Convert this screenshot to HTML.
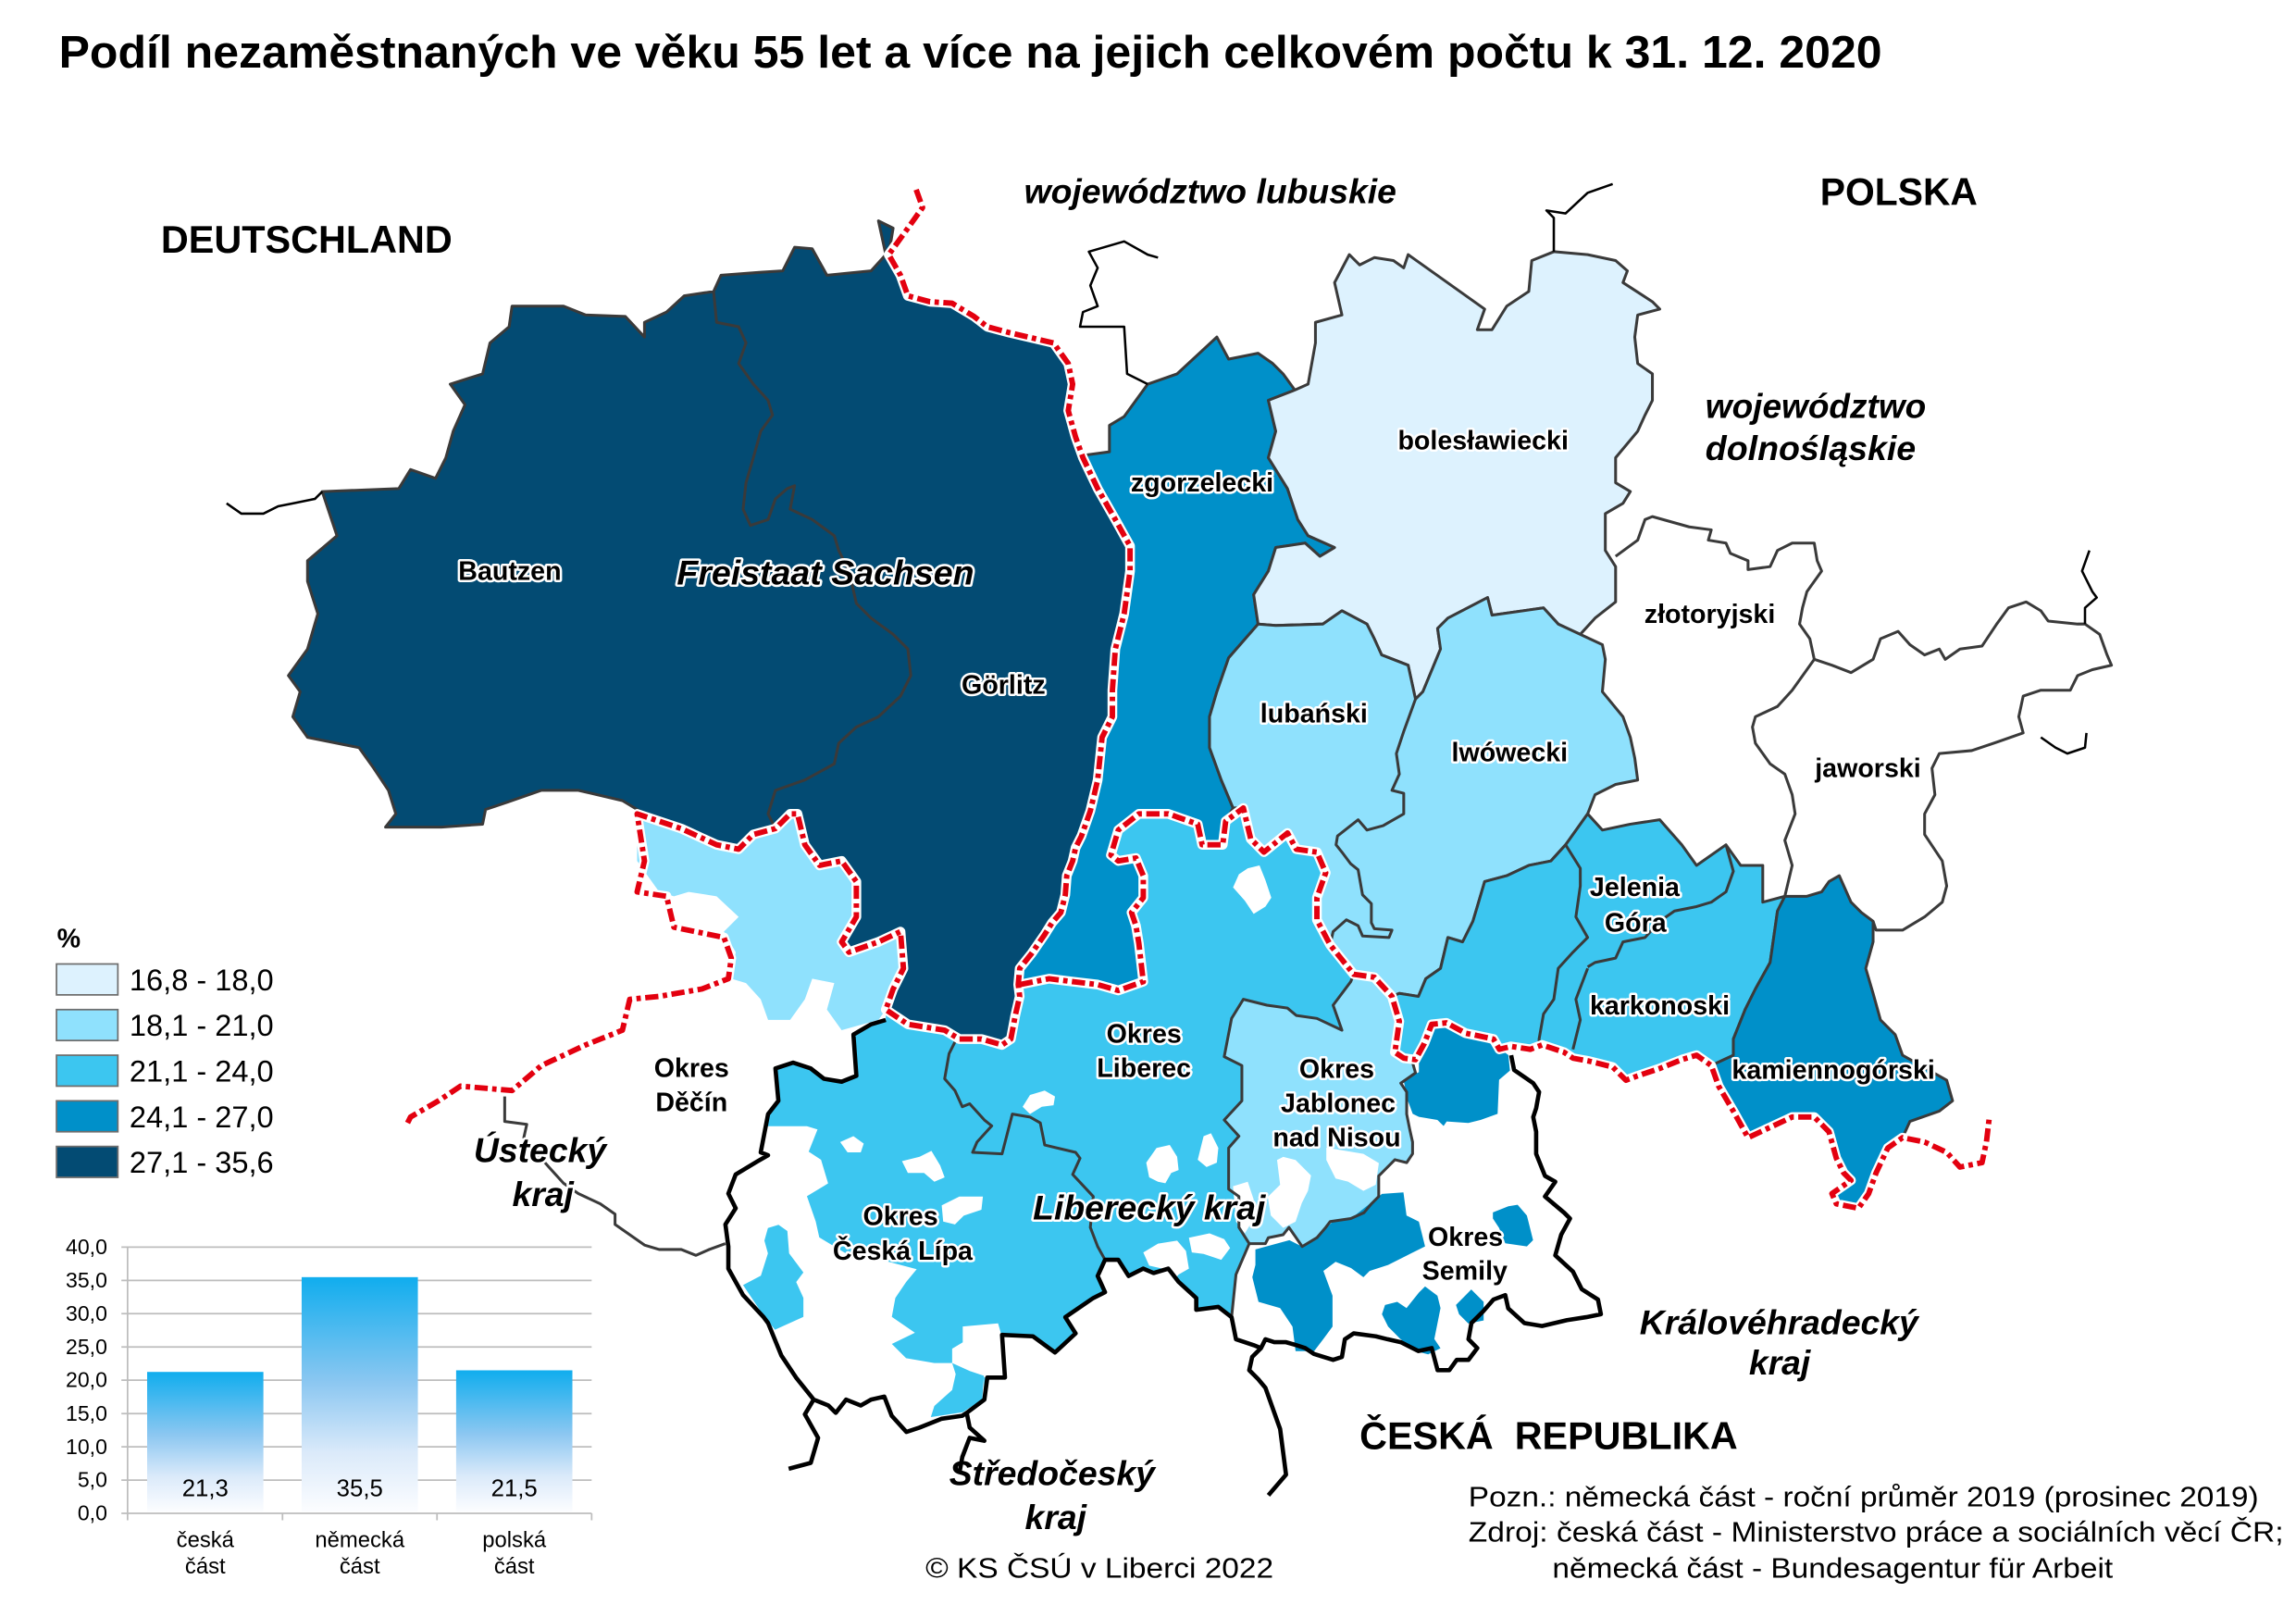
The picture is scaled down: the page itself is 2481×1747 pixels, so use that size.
<!DOCTYPE html>
<html><head><meta charset="utf-8">
<style>
html,body{margin:0;padding:0;background:#fff}
svg{display:block}
text{font-family:"Liberation Sans",Arial,sans-serif;fill:#000}
.h{stroke:#fff;stroke-width:3.2;stroke-linejoin:round;paint-order:stroke fill}
.lb{font-size:18px;font-weight:bold;text-anchor:middle}
.bi{font-size:23.5px;font-weight:bold;font-style:italic}
.pl{stroke:#3a3a3a;stroke-width:1.9;stroke-linejoin:round}
.gl{fill:none;stroke:#3a3a3a;stroke-width:1.9;stroke-linejoin:round}
.bk{fill:none;stroke:#000;stroke-width:2.9;stroke-linejoin:round}
.bt{fill:none;stroke:#000;stroke-width:1.6;stroke-linejoin:round}
</style></head><body>
<svg width="2481" height="1747" viewBox="0 0 1560.4 1098.7" xmlns="http://www.w3.org/2000/svg">
<defs>
<linearGradient id="bar" x1="0" y1="0" x2="0" y2="1">
<stop offset="0" stop-color="#10adee"/>
<stop offset="0.45" stop-color="#8cc7f1"/>
<stop offset="0.75" stop-color="#dbeafa"/>
<stop offset="1" stop-color="#fcfdff"/>
</linearGradient>
</defs>
<rect x="0" y="0" width="1560.4" height="1098.7" fill="#fff"/>

<!-- ===== Czech fills ===== -->
<!-- Šluknov light -->
<polygon fill="#8fe1fd" points="433,553 463,563 487,574 502,577 512,567 527,563 537,553 542,553 547,574 557,588 572,585 582,599 582,623 572,640 577,647 597,640 612,633 614,658 607,672 602,686 597,693 572,700 562,686 567,668 552,665 547,679 537,693 522,693 517,679 507,668 497,665 500,647 492,633 502,623 487,609 468,606 458,609 448,606 438,592 433,585"/>
<!-- Liberec + Česká Lípa mid -->
<polygon fill="#3cc6f0" points="602,686 617,696 642,700 652,706 667,706 681,710 687,706 690,690 693,677 693,669 713,665 729,667 746,669 760,673 777,667 774,641 772,629 769,620 777,610 777,595 772,583 760,585 755,581 760,564 774,553 794,553 814,560 817,574 831,574 833,558 845,549 850,570 859,579 875,566 881,577 895,579 901,593 895,610 895,625 904,642 920,662 918,667 906,683 912,700 895,692 881,690 875,685 861,683 845,679 837,692 832,718 844,724 844,748 832,761 842,772 835,780 835,808 842,813 842,834 849,845 840,866 837,895 828,888 813,890 813,882 801,871 794,862 784,865 777,862 767,867 760,856 751,856 746,867 751,878 743,882 724,895 731,906 717,919 702,908 681,907 683,936 671,936 669,951 657,960 654,962 640,964 625,970 616,973 606,962 601,949 592,951 585,955 575,951 568,960 563,955 553,951 541,936 531,921 522,899 519,895 505,880 495,862 495,847 493,832 500,821 495,811 500,798 515,789 522,785 517,783 522,757 529,748 527,726 539,722 551,726 560,733 572,735 582,731 580,703 592,696 602,693"/>
<!-- Jablonec light -->
<polygon fill="#8fe1fd" points="845,679 861,683 875,685 881,690 895,692 912,700 906,683 918,667 920,662 934,664 946,677 951,694 948,715 954,719 960,722 962,729 952,736 956,742 956,757 958,767 960,776 960,784 956,790 948,788 939,797 937,799 937,813 932,818 927,824 918,828 904,830 901,834 895,841 885,847 876,834 872,839 862,841 860,845 849,845 842,834 842,813 835,808 835,780 842,772 832,761 844,748 844,724 832,718 837,692"/>
<!-- white areas in Česká Lípa -->
<polygon fill="#fff" points="490.6,765.2 548.4,765.2 555.6,767.4 549.6,782.5 558,788 562.8,804.1 548.4,812.8 554.4,830 556.8,840.8 574.8,851.6 598.9,856 623,862.4 615.8,871.1 608.5,881.9 606.1,894.8 621.8,905.6 606.1,913.2 615.8,922.9 635,926.2 647.1,926.2 647.1,916.4 654.3,912.1 654.3,901.3 678.3,899.2 680.8,907.8 683.2,935.9 668.7,935.9 668.7,994.2 490.6,994.2"/>
<polygon fill="#3cc6f0" points="521.9,834.4 529.1,832.2 535.1,836.5 536.3,851.6 546,864.6 541.1,871.1 546,881.9 546,894.8 526.7,903.5 519.5,894.8 505,873.2 517.1,866.8 521.9,851.6 519.5,843"/>
<polygon fill="#3cc6f0" points="647.1,926.2 659.1,931.6 668.7,934.8 667.5,951 654.3,959.6 632.6,962.9 635,955.3 647.1,944.5 649.5,933.7"/>
<g fill="#fff">
<polygon points="571,776 580,772 587,777 585,783 576,783"/>
<polygon points="613,789 625,786 633,782 639,792 642,800 635,803 628,797 617,797"/>
<polygon points="640,819 652,813 668,813 667,822 655,826 649,832 641,830"/>
<polygon points="848,590 856,588 860,598 864,610 860,616 852,621 846,612 838,603 842,594"/>
<polygon points="695,752 700,744 710,741 717,745 716,751 708,752 700,757"/>
<polygon points="786,780 795,778 800,786 801,795 796,797 792,804 787,803 781,800 779,790"/>
<polygon points="818,772 823,770 828,780 827,790 820,793 814,788 816,780"/>
<polygon points="777,851 787,845 800,843 806,850 808,862 801,866 796,872 790,862 781,860"/>
<polygon points="808,841 822,838 832,842 836,848 830,856 818,852 810,851"/>
<polygon points="838,806 848,803 852,815 851,830 846,838 840,830"/>
<polygon points="867.9,788.2 872.1,786.1 880.5,788.2 891,798.7 888.9,809.2 884.7,817.5 880.5,830.1 872.1,834.3 863.7,825.9 861.6,813.3 870,805"/>
<polygon points="901.4,779.8 926.6,784 937.1,790.3 935,805 926.6,809.2 916.1,802.9 907.7,800.8 901.4,788.2"/>
</g>
<!-- Semily patches -->
<g fill="#0090c9">
<polygon points="953.8,733.7 964.3,728.5 964.3,715.9 972.7,698.1 981.1,697 991.6,702.3 1006.2,706.4 1016.7,710.6 1025.1,716.9 1026.2,727.4 1018.8,733.7 1017.8,756.8 1006.2,761 997.9,763 983.2,762 981.1,765.1 976.9,761 964.3,758.9 960.1,756.8 957,748.4"/>
<polygon points="853.2,849 876.3,842.7 884.7,846.9 897.3,838.5 905.6,830.1 918.2,828 928.7,819.6 939.2,811.2 953.8,810.2 955.9,825.9 964.3,830.1 968.5,846.9 955.9,853.2 943.4,859.5 930.8,863.6 926.6,867.8 918.2,861.6 907.7,857.4 899.4,863.6 905.6,880.4 905.6,901.4 899.4,909.8 893.1,918.1 880.5,918.1 878.4,901.4 870,888.8 855.3,884.6 851.1,867.8 853.2,859.5"/>
<polygon points="1014.6,823.8 1025.1,819.6 1031.4,818.6 1037.7,825.9 1041.9,842.7 1037.7,846.9 1023,844.8 1018.8,834.3 1014.6,828"/>
<polygon points="941.3,886.7 949.6,884.6 955.9,888.8 964.3,878.3 968.5,874.1 976.9,880.4 979,888.8 974.8,909.8 979,916.1 970.6,920.3 962.2,918.1 951.7,909.8 943.4,901.4 939.2,893"/>
<polygon points="989.5,886.7 999.9,876.2 1008.3,884.6 1008.3,897.2 997.9,899.3 991.6,893"/>
</g>

<!-- ===== German / Polish districts ===== -->
<polygon class="pl" fill="#034b73" points="597,150 607,155 604,173 612,187 617,201 632,205 647,206 662,215 671,222 686,226 716,233 726,247 729,261 726,279 731,297 736,311 746,332 758,353 768,371 768,388 764,417 758,441 756,469 756,487 749,501 746,530 741,551 735,568 731,576 729,585 725,595 724,608 721,620 715,627 710,635 701,648 693,658 692,669 693,677 690,690 687,706 681,710 667,706 652,706 642,700 617,696 602,686 607,672 614,658 612,633 597,640 577,647 572,640 582,623 582,599 572,585 557,588 547,574 542,553 537,553 527,563 512,567 502,577 487,574 463,563 438,553 423,544 393,537 368,537 345,545 330,550 328,560 300,562 262,562 269,553 264,537 254,522 244,508 209,501 199,487 204,470 196,459 209,441 216,417 209,395 209,381 229,364 219,334 271,332 279,319 296,325 303,311 308,293 316,275 306,261 328,254 333,233 346,222 348,208 383,208 398,214 425,215 438,229 438,219 453,212 465,201 485,198 490,187 517,185 532,184 540,168 552,169 562,187 592,184 602,173"/>
<polygon class="pl" fill="#0090c9" points="739,309 754,307 754,289 764,283 780,261 800,254 827,229 835,244 855,240 865,247 872,254 880,265 862,272 867,293 862,311 875,332 882,353 889,364 907,372 897,378 887,369 867,372 862,388 852,404 855,424 835,447 827,470 822,487 822,508 830,530 838,549 833,558 831,574 817,574 814,560 794,553 774,553 760,564 755,581 760,585 772,583 777,595 777,610 769,620 772,629 774,641 777,667 760,673 746,669 729,667 713,665 693,669 693,658 701,648 710,635 715,627 721,620 724,608 725,595 729,585 731,576 735,568 741,551 746,530 749,501 756,487 756,469 758,441 764,417 768,388 768,371 758,353 746,332 736,311"/>
<polygon class="pl" fill="#ddf2fe" points="894,233 894,219 912,214 907,192 917,173 924,180 934,175 947,177 954,182 957,173 1009,210 1004,224 1014,224 1024,208 1039,198 1041,177 1056,171 1079,173 1098,177 1106,184 1103,192 1123,205 1128,210 1113,214 1111,229 1113,247 1123,254 1123,272 1118,282 1113,293 1098,311 1098,328 1108,334 1103,342 1091,349 1091,374 1098,385 1098,409 1084,420 1074,431 1059,424 1049,413 1014,418 1011,406 984,420 977,427 979,441 967,470 962,475 957,452 939,445 934,434 929,424 912,415 899,424 867,425 855,424 852,404 862,388 867,372 887,369 897,378 907,372 889,364 882,353 875,332 862,311 867,293 862,272 880,265 889,261"/>
<polygon class="pl" fill="#8fe1fd" points="838,549 830,530 822,508 822,487 827,470 835,447 855,424 867,425 899,424 912,415 929,424 934,434 939,445 957,452 962,475 967,470 979,441 977,427 984,420 1011,406 1014,418 1049,413 1059,424 1074,431 1089,438 1091,448 1089,470 1103,487 1108,501 1111,515 1113,530 1098,533 1084,540 1079,553 1064,574 1054,585 1039,588 1024,595 1009,599 1004,616 1001,626 994,640 984,637 979,658 969,665 964,677 951,675 946,677 934,664 920,662 904,642 895,625 895,610 901,593 895,579 881,577 875,566 859,579 850,570 845,549"/>
<polygon class="pl" fill="#3cc6f0" points="1079,553 1089,564 1108,560 1128,557 1143,574 1153,588 1173,574 1183,588 1198,588 1198,613 1213,609 1208,619 1203,654 1193,672 1186,686 1178,706 1178,717 1163,724 1153,717 1143,720 1128,726 1113,731 1105,734 1096,725 1080,721 1069,719 1063,715 1048,710 1040,713 1027,711 1019,713 1015,706 996,702 983,695 973,696 968,709 962,720 954,719 948,715 951,694 946,677 951,675 964,677 969,665 979,658 984,637 994,640 1001,626 1004,616 1009,599 1024,595 1039,588 1054,585 1064,574"/>
<polygon class="pl" fill="#0090c9" points="1213,609 1228,609 1238,606 1243,599 1250,595 1258,613 1265,620 1273,626 1273,640 1268,658 1273,675 1278,693 1288,703 1293,717 1323,734 1327,748 1318,755 1298,762 1293,773 1283,780 1275,797 1270,811 1263,821 1248,818 1245,811 1258,802 1253,797 1248,787 1243,769 1233,759 1218,759 1203,766 1188,773 1178,755 1168,738 1163,724 1178,717 1178,706 1186,686 1193,672 1203,654 1208,619"/>

<!-- ===== gray boundary lines ===== -->
<polyline class="gl" points="485,198 487,219 502,222 507,233 502,247 512,261 522,272 525,282 517,293 512,311 507,328 505,346 510,357 522,353 527,339 535,332 540,330 537,346 552,353 567,364 570,374 577,388 582,410 592,420 607,431 617,441 619,459 612,473 597,487 582,494 570,505 567,519 547,530 527,537 522,553 527,563"/>
<polyline class="gl" points="962,475 954,497 949,512 951,526 946,537 954,539 954,553 940,561 929,564 923,557 909,568 908,574 912,579 918,587 923,591 926,608 932,614 932,627 934,631 946,632 944,637 926,636 923,629 915,625 906,633 904,642"/>
<polyline class="gl" points="1064,574 1074,590 1074,602 1071,623 1079,637 1069,647 1059,658 1056,679 1049,689 1046,706 1046,712"/>
<polyline class="gl" points="1079,657 1084,654 1098,651 1103,640 1118,637 1128,626 1138,619 1153,616 1163,613 1173,606 1178,592 1173,574"/>
<polyline class="gl" points="1079,658 1071,679 1074,693 1069,713"/>
<polyline class="gl" points="1098,378 1113,367 1118,353 1123,351 1148,358 1163,360 1161,367 1173,369 1176,376 1188,381 1188,387 1203,385 1208,374 1218,369 1233,369 1235,381 1238,388 1228,402 1225,413 1223,424 1230,434 1233,448 1228,455 1218,469 1208,480 1193,487 1191,494 1193,505 1203,519 1213,526 1218,540 1220,553 1213,571 1218,588 1213,609"/>
<polyline class="gl" points="1233,448 1245,452 1258,457 1273,448 1278,434 1290,429 1298,438 1308,445 1318,441 1322,448 1332,441 1347,439 1357,424 1365,413 1377,409 1387,415 1392,422 1412,424 1417,424 1427,431 1432,445 1435,452 1422,455 1412,459 1407,469 1387,469 1375,473 1372,487 1375,498 1355,505 1340,510 1318,512 1313,522 1315,540 1308,553 1308,567 1320,585 1323,602 1320,613 1308,623 1293,632 1275,632 1273,626"/>
<!-- CZ okres lines -->
<polyline class="gl" points="650,706 645,716 642,733 649,741 654,752 659,750 669,761 674,765 664,776 661,783 681,784 688,757 700,759 707,763 710,778 731,783 734,787 729,798 743,813 741,834 746,847 751,856"/>
<polyline class="gl" points="920,662 918,667 906,683 912,700 895,692 881,690 875,685 861,683 845,679 837,692 832,718 844,724 844,748 832,761 842,772 835,780 835,808 842,813 842,834 849,845 840,866 837,895"/>
<polyline class="gl" points="849,845 860,845 862,841 872,839 876,834 885,847 895,841 901,834 904,830 918,828 927,824 932,818 937,813 937,799 939,797 948,788 956,790 960,784 960,776 958,767 956,757 956,742 952,736 962,729 960,722"/>
<polyline class="gl" points="343,745 343,762 358,764 356,773 366,785 373,793 383,804 393,811 408,818 418,825 418,832 428,839 438,846 448,849 463,849 473,853 482,849 493,845"/>

<!-- ===== black lines ===== -->
<polyline class="bk" points="602,693 592,696 580,703 582,731 572,735 560,733 551,726 539,722 527,726 529,748 522,757 517,783 522,785 515,789 500,798 495,811 500,821 493,832 495,847 495,862 505,880 519,895 522,899 531,921 541,936 553,951 563,955 568,960 575,951 585,955 592,951 601,949 606,962 616,973 625,970 640,964 654,962 657,960 669,951 671,936 683,936 681,907 702,908 717,919 731,906 724,895 743,882 751,878 746,867 751,856 760,856 767,867 777,862 784,865 794,862 801,871 813,882 813,890 828,888 837,895 840,910 852,914 857,916 860,910 866,912 874,912 881,914 887,916 893,920 906,924 912,922 914,910 920,906 935,908 943,910 952,912 964,918 973,916 977,931 985,931 990,924 998,924 1004,916 998,910 1000,899 1008,891 1015,883 1023,880 1025,889 1036,899 1048,901 1065,897 1078,895 1088,893 1086,883 1075,876 1069,864 1057,853 1061,839 1067,828 1063,824 1050,813 1057,803 1050,799 1044,784 1044,769 1042,759 1044,753 1046,742 1042,736 1029,727 1027,717"/>
<polyline class="bk" points="553,951 547,961 556,977 551,994 536,998"/>
<polyline class="bk" points="657,960 659,970 669,979 659,977 654,990 652,1001"/>
<polyline class="bk" points="857,916 851,922 849,931 855,937 860,943 870,971 874,1002 862,1016"/>
<polyline class="bt" points="154,342 164,349 179,349 189,344 199,342 214,339 219,334"/>
<polyline class="bt" points="787,175 780,173 764,164 740,171 746,182 741,194 746,208 736,212 734,222 764,222 766,254 780,261"/>
<polyline class="bt" points="1056,171 1056,148 1051,143 1064,145 1079,131 1096,125"/>
<polyline class="bt" points="1420,374 1415,388 1422,402 1425,406 1417,413 1417,424"/>
<polyline class="bt" points="1387,501 1397,508 1405,512 1417,508 1418,498"/>

<!-- ===== red state borders ===== -->
<g fill="none" stroke-linejoin="round">
<polyline stroke="#fff" stroke-width="6.6" points="277,763 279,759 298,748 313,738 348,741 368,724 398,710 423,700 428,679 448,677 477,672 495,665 497,651 492,637 458,630 453,609 433,606 438,585 433,553 463,563 487,574 502,577 512,567 527,563 537,553 542,553 547,574 557,588 572,585 582,599 582,623 572,640 577,647 597,640 612,633 614,658 607,672 602,686 617,696 642,700 652,706 667,706 681,710 687,706 690,690 693,677 692,669 693,658 701,648 710,635 715,627 721,620 724,608 725,595 729,585 731,576 735,568 741,551 746,530 749,501 756,487 756,469 758,441 764,417 768,388 768,371 758,353 746,332 736,311 731,297 726,279 729,261 726,247 716,233 686,226 671,222 662,215 647,206 632,205 617,201 612,187 604,173 617,155 627,141 622,127"/>
<polyline stroke="#fff" stroke-width="6.6" points="693,669 713,665 729,667 746,669 760,673 777,667 774,641 772,629 769,620 777,610 777,595 772,583 760,585 755,581 760,564 774,553 794,553 814,560 817,574 831,574 833,558 845,549 850,570 859,579 875,566 881,577 895,579 901,593 895,610 895,625 904,642 920,662 934,664 946,677 951,694 948,715 954,719 962,720 968,709 973,696 983,695 996,702 1015,706 1019,713 1027,711 1040,713 1048,710 1063,715 1069,719 1080,721 1096,725 1105,734 1113,731 1128,726 1143,720 1153,717 1163,724 1168,738 1178,755 1188,773 1203,766 1218,759 1233,759 1243,769 1248,787 1253,797 1258,802 1245,811 1248,818 1263,821 1270,811 1275,797 1283,780 1293,773 1308,776 1323,783 1332,793 1347,790 1350,776 1352,759"/>
<polyline stroke="#e3000f" stroke-width="3.7" stroke-dasharray="9 3 3 3" points="277,763 279,759 298,748 313,738 348,741 368,724 398,710 423,700 428,679 448,677 477,672 495,665 497,651 492,637 458,630 453,609 433,606 438,585 433,553 463,563 487,574 502,577 512,567 527,563 537,553 542,553 547,574 557,588 572,585 582,599 582,623 572,640 577,647 597,640 612,633 614,658 607,672 602,686 617,696 642,700 652,706 667,706 681,710 687,706 690,690 693,677 692,669 693,658 701,648 710,635 715,627 721,620 724,608 725,595 729,585 731,576 735,568 741,551 746,530 749,501 756,487 756,469 758,441 764,417 768,388 768,371 758,353 746,332 736,311 731,297 726,279 729,261 726,247 716,233 686,226 671,222 662,215 647,206 632,205 617,201 612,187 604,173 617,155 627,141 622,127"/>
<polyline stroke="#e3000f" stroke-width="3.7" stroke-dasharray="9 3 3 3" points="693,669 713,665 729,667 746,669 760,673 777,667 774,641 772,629 769,620 777,610 777,595 772,583 760,585 755,581 760,564 774,553 794,553 814,560 817,574 831,574 833,558 845,549 850,570 859,579 875,566 881,577 895,579 901,593 895,610 895,625 904,642 920,662 934,664 946,677 951,694 948,715 954,719 962,720 968,709 973,696 983,695 996,702 1015,706 1019,713 1027,711 1040,713 1048,710 1063,715 1069,719 1080,721 1096,725 1105,734 1113,731 1128,726 1143,720 1153,717 1163,724 1168,738 1178,755 1188,773 1203,766 1218,759 1233,759 1243,769 1248,787 1253,797 1258,802 1245,811 1248,818 1263,821 1270,811 1275,797 1283,780 1293,773 1308,776 1323,783 1332,793 1347,790 1350,776 1352,759"/>
</g>

<!-- ===== Title ===== -->
<text x="40" y="45.9" font-size="31" font-weight="bold" textLength="1239" lengthAdjust="spacingAndGlyphs">Podíl nezaměstnaných ve věku 55 let a více na jejich celkovém počtu k 31. 12. 2020</text>

<!-- ===== Country / region labels ===== -->
<text x="109.4" y="171.6" font-size="26" font-weight="bold" textLength="198" lengthAdjust="spacingAndGlyphs">DEUTSCHLAND</text>
<text x="1237" y="139.4" font-size="26" font-weight="bold" textLength="107" lengthAdjust="spacingAndGlyphs">POLSKA</text>
<text x="924" y="984.5" font-size="26" font-weight="bold" textLength="257" lengthAdjust="spacingAndGlyphs" xml:space="preserve">ČESKÁ  REPUBLIKA</text>
<text class="bi" x="696" y="138" textLength="253" lengthAdjust="spacingAndGlyphs">województwo lubuskie</text>
<text class="bi" x="1159" y="284" textLength="150" lengthAdjust="spacingAndGlyphs">województwo</text>
<text class="bi" x="1159" y="312.5" textLength="143" lengthAdjust="spacingAndGlyphs">dolnośląskie</text>
<text class="bi h" x="460" y="397" font-size="24" textLength="202" lengthAdjust="spacingAndGlyphs">Freistaat Sachsen</text>
<text class="bi h" x="702" y="828.5" textLength="158" lengthAdjust="spacingAndGlyphs">Liberecký kraj</text>
<text class="bi h" x="367" y="789.5" text-anchor="middle">Ústecký</text>
<text class="bi h" x="369" y="819.5" text-anchor="middle">kraj</text>
<text class="bi" x="715" y="1009" text-anchor="middle">Středočeský</text>
<text class="bi" x="717.5" y="1039" text-anchor="middle">kraj</text>
<text class="bi" x="1209" y="906.5" text-anchor="middle">Královéhradecký</text>
<text class="bi" x="1209.5" y="934" text-anchor="middle">kraj</text>

<!-- district labels -->
<g class="lb">
<text class="h" x="346.5" y="394">Bautzen</text>
<text class="h" x="682" y="471.4">Görlitz</text>
<text class="h" x="817" y="333.9">zgorzelecki</text>
<text class="h" x="1008" y="305.4">bolesławiecki</text>
<text class="h" x="1162" y="423.4">złotoryjski</text>
<text class="h" x="893" y="491">lubański</text>
<text class="h" x="1026" y="517.4">lwówecki</text>
<text class="h" x="1269.5" y="528">jaworski</text>
<text class="h" x="1111" y="608.9">Jelenia</text>
<text class="h" x="1111.5" y="632.9">Góra</text>
<text class="h" x="1128" y="689.4">karkonoski</text>
<text class="h" x="1246" y="733.1">kamiennogórski</text>
<text class="h" x="777.5" y="708.6">Okres</text>
<text class="h" x="777.5" y="731.6">Liberec</text>
<text class="h" x="908.5" y="732.4">Okres</text>
<text class="h" x="909.5" y="755.6">Jablonec</text>
<text class="h" x="908.5" y="779">nad Nisou</text>
<text class="h" x="996" y="846.4">Okres</text>
<text class="h" x="995.5" y="869.4">Semily</text>
<text class="h" x="612" y="832.4">Okres</text>
<text class="h" x="613.5" y="856">Česká Lípa</text>
<text class="h" x="470" y="731.6">Okres</text>
<text class="h" x="470" y="755">Děčín</text>
</g>

<!-- ===== Legend ===== -->
<text x="38.8" y="643.6" font-size="18" font-weight="bold">%</text>
<g stroke="#6e6e6e" stroke-width="1.1">
<rect x="38.4" y="655" width="41.7" height="21" fill="#ddf2fe"/>
<rect x="38.4" y="686" width="41.7" height="21" fill="#8fe1fd"/>
<rect x="38.4" y="717" width="41.7" height="21" fill="#3cc6f0"/>
<rect x="38.4" y="748" width="41.7" height="21" fill="#0090c9"/>
<rect x="38.4" y="779" width="41.7" height="21" fill="#034b73"/>
</g>
<g font-size="20.5">
<text x="88" y="672.9">16,8 - 18,0</text>
<text x="88" y="703.9">18,1 - 21,0</text>
<text x="88" y="734.9">21,1 - 24,0</text>
<text x="88" y="765.9">24,1 - 27,0</text>
<text x="88" y="796.9">27,1 - 35,6</text>
</g>

<!-- ===== Bar chart ===== -->
<g stroke="#bdbdbd" stroke-width="1.1">
<line x1="82.5" y1="847.4" x2="402.1" y2="847.4"/>
<line x1="82.5" y1="870" x2="402.1" y2="870"/>
<line x1="82.5" y1="892.6" x2="402.1" y2="892.6"/>
<line x1="82.5" y1="915.2" x2="402.1" y2="915.2"/>
<line x1="82.5" y1="937.8" x2="402.1" y2="937.8"/>
<line x1="82.5" y1="960.5" x2="402.1" y2="960.5"/>
<line x1="82.5" y1="983.1" x2="402.1" y2="983.1"/>
<line x1="82.5" y1="1005.7" x2="402.1" y2="1005.7"/>
<line x1="82.5" y1="1028.3" x2="402.1" y2="1028.3"/>
<line x1="86.7" y1="847.4" x2="86.7" y2="1033"/>
<line x1="192" y1="1028.3" x2="192" y2="1033"/>
<line x1="297" y1="1028.3" x2="297" y2="1033"/>
<line x1="402.1" y1="1028.3" x2="402.1" y2="1033"/>
</g>
<rect x="100" y="932.2" width="79" height="95" fill="url(#bar)"/>
<rect x="205" y="867.8" width="79" height="159.4" fill="url(#bar)"/>
<rect x="310" y="931.1" width="79" height="96.1" fill="url(#bar)"/>
<g font-size="16.2" text-anchor="middle">
<text x="139.5" y="1016.8">21,3</text>
<text x="244.5" y="1016.8">35,5</text>
<text x="349.5" y="1016.8">21,5</text>
</g>
<g font-size="14.5" text-anchor="end">
<text x="72.9" y="852.2">40,0</text>
<text x="72.9" y="874.8">35,0</text>
<text x="72.9" y="897.4">30,0</text>
<text x="72.9" y="920">25,0</text>
<text x="72.9" y="942.6">20,0</text>
<text x="72.9" y="965.3">15,0</text>
<text x="72.9" y="987.9">10,0</text>
<text x="72.9" y="1010.5">5,0</text>
<text x="72.9" y="1033.1">0,0</text>
</g>
<g font-size="15" text-anchor="middle">
<text x="139.5" y="1051.3">česká</text>
<text x="139.5" y="1069.2">část</text>
<text x="244.5" y="1051.3">německá</text>
<text x="244.5" y="1069.2">část</text>
<text x="349.5" y="1051.3">polská</text>
<text x="349.5" y="1069.2">část</text>
</g>

<!-- ===== Footer texts ===== -->
<g font-size="19.5">
<text x="629" y="1072" textLength="236.5" lengthAdjust="spacingAndGlyphs">© KS ČSÚ v Liberci 2022</text>
<text x="998" y="1023.5" textLength="537" lengthAdjust="spacingAndGlyphs">Pozn.: německá část - roční průměr 2019 (prosinec 2019)</text>
<text x="998" y="1047.5" textLength="554" lengthAdjust="spacingAndGlyphs">Zdroj: česká část - Ministerstvo práce a sociálních věcí ČR;</text>
<text x="1055" y="1072" textLength="381" lengthAdjust="spacingAndGlyphs">německá část - Bundesagentur für Arbeit</text>
</g>
</svg>
</body></html>
